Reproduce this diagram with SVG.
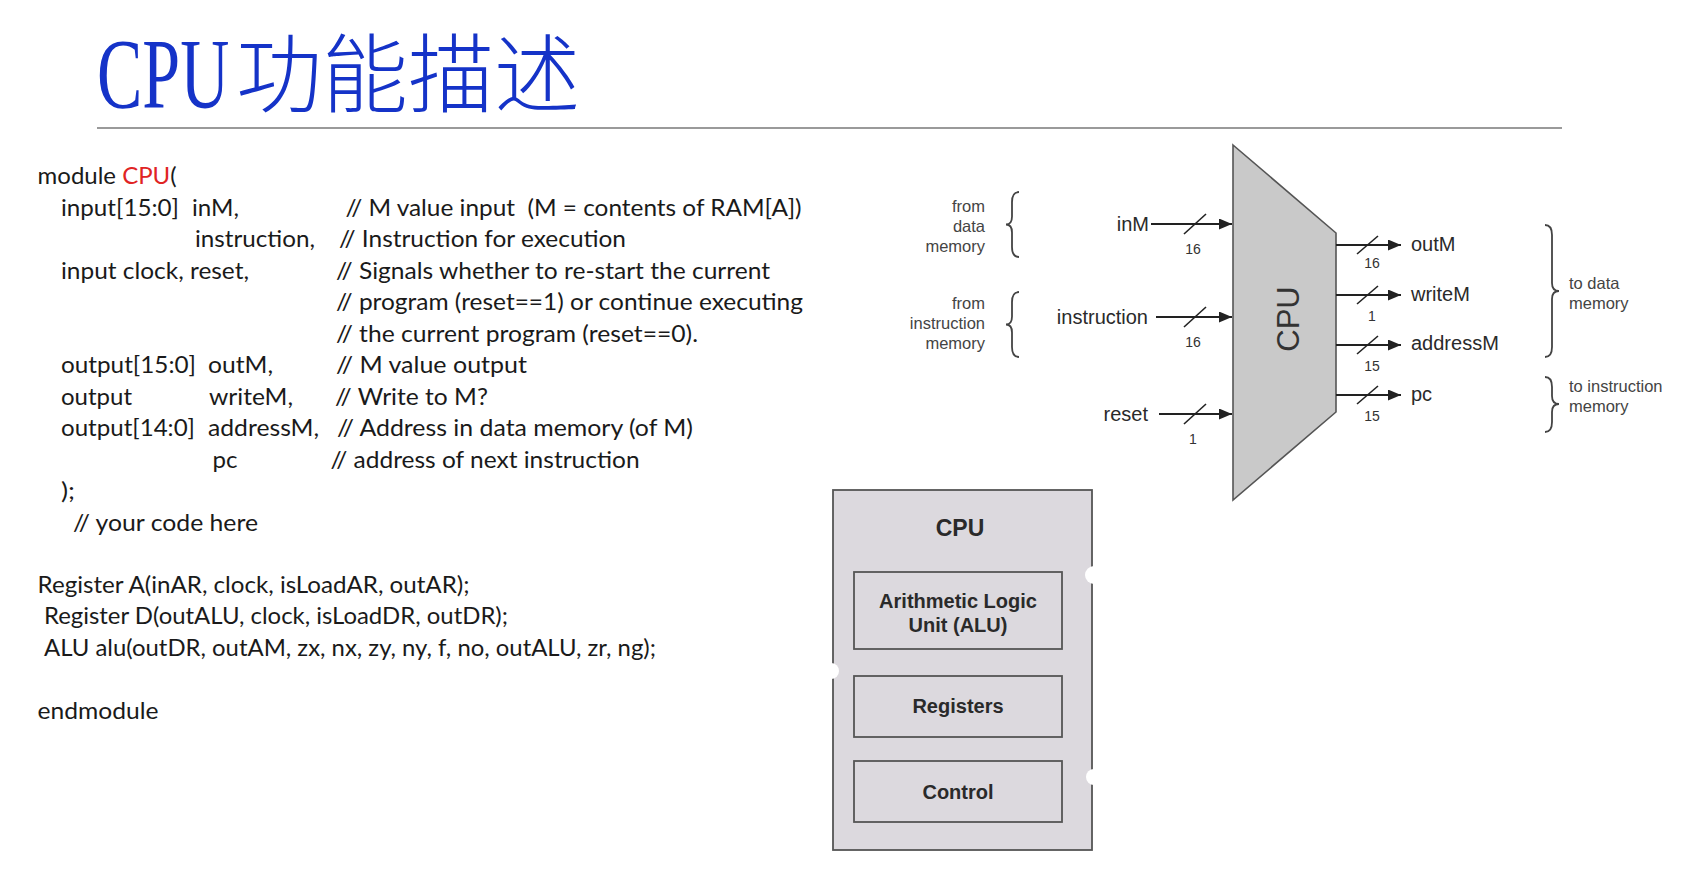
<svg xmlns="http://www.w3.org/2000/svg" width="1683" height="874" viewBox="0 0 1683 874">
<style>
.code{font-family:Lato,"Liberation Sans",sans-serif;font-size:24px;fill:#1a1a1a}
.red{fill:#e02424}
.lbl{font-family:"Liberation Sans",Arial,sans-serif;font-size:20px;fill:#2a2a2a}
.num{font-family:"Liberation Sans",Arial,sans-serif;font-size:14px;fill:#333;text-anchor:middle}
.mem{font-family:"Liberation Sans",Arial,sans-serif;font-size:16.5px;fill:#444}
.wire{stroke:#222;stroke-width:2;fill:none}
.slash{stroke:#222;stroke-width:1.6;fill:none}
.brace{stroke:#444;stroke-width:1.8;fill:none}
.bx{fill:#dcd9de;stroke:#555;stroke-width:1.8}
.bt{font-family:"Liberation Sans",Arial,sans-serif;font-weight:bold;font-size:20px;fill:#2a2a2a;text-anchor:middle}
</style>
<defs>
<marker id="ah" markerUnits="userSpaceOnUse" markerWidth="14" markerHeight="12" refX="13" refY="5.5" orient="auto">
<path d="M0,0 L13,5.5 L0,11 z" fill="#222"/>
</marker>
</defs>
<rect width="1683" height="874" fill="#ffffff"/>

<g id="title">
<text x="0" y="0" transform="translate(97,107) scale(0.68,1)" font-family="'Liberation Serif',serif" font-size="100" fill="#1533c8">CPU</text>
<text x="236" y="106" font-family="'Noto Sans CJK SC',sans-serif" font-size="86" font-weight="300" fill="#1533c8" textLength="344" lengthAdjust="spacingAndGlyphs">功能描述</text>
<line x1="97" y1="128" x2="1562" y2="128" stroke="#9a9a9a" stroke-width="2"/>
</g>

<g id="code">
<text class="code" x="37.6" y="184" textLength="139" lengthAdjust="spacingAndGlyphs">module <tspan class="red">CPU</tspan>(</text>
<text class="code" x="61" y="216" textLength="118" lengthAdjust="spacingAndGlyphs">input[15:0]</text>
<text class="code" x="192" y="216" textLength="47" lengthAdjust="spacingAndGlyphs">inM,</text>
<text class="code" x="345.6" y="216" textLength="456" lengthAdjust="spacingAndGlyphs" xml:space="preserve">// M value input  (M = contents of RAM[A])</text>
<text class="code" x="195" y="247" textLength="120" lengthAdjust="spacingAndGlyphs">instruction,</text>
<text class="code" x="339" y="247" textLength="287" lengthAdjust="spacingAndGlyphs">// Instruction for execution</text>
<text class="code" x="61" y="279" textLength="188" lengthAdjust="spacingAndGlyphs">input clock, reset,</text>
<text class="code" x="336" y="279" textLength="434" lengthAdjust="spacingAndGlyphs">// Signals whether to re-start the current</text>
<text class="code" x="336" y="310" textLength="467" lengthAdjust="spacingAndGlyphs">// program (reset==1) or continue executing</text>
<text class="code" x="336" y="342" textLength="362" lengthAdjust="spacingAndGlyphs">// the current program (reset==0).</text>
<text class="code" x="61" y="373" textLength="135" lengthAdjust="spacingAndGlyphs">output[15:0]</text>
<text class="code" x="208" y="373" textLength="65" lengthAdjust="spacingAndGlyphs">outM,</text>
<text class="code" x="336" y="373" textLength="191" lengthAdjust="spacingAndGlyphs">// M value output</text>
<text class="code" x="61" y="405" textLength="71" lengthAdjust="spacingAndGlyphs">output</text>
<text class="code" x="209" y="405" textLength="84" lengthAdjust="spacingAndGlyphs">writeM,</text>
<text class="code" x="335" y="405" textLength="153" lengthAdjust="spacingAndGlyphs">// Write to M?</text>
<text class="code" x="61" y="436" textLength="134" lengthAdjust="spacingAndGlyphs">output[14:0]</text>
<text class="code" x="208" y="436" textLength="111" lengthAdjust="spacingAndGlyphs">addressM,</text>
<text class="code" x="337" y="436" textLength="356" lengthAdjust="spacingAndGlyphs">// Address in data memory (of M)</text>
<text class="code" x="212.5" y="468" textLength="25" lengthAdjust="spacingAndGlyphs">pc</text>
<text class="code" x="330.6" y="468" textLength="309" lengthAdjust="spacingAndGlyphs">// address of next instruction</text>
<text class="code" x="61" y="499" textLength="14" lengthAdjust="spacingAndGlyphs">);</text>
<text class="code" x="73" y="531" textLength="185" lengthAdjust="spacingAndGlyphs">// your code here</text>
<text class="code" x="37.6" y="593" textLength="432" lengthAdjust="spacingAndGlyphs">Register A(inAR, clock, isLoadAR, outAR);</text>
<text class="code" x="44" y="624" textLength="464" lengthAdjust="spacingAndGlyphs">Register D(outALU, clock, isLoadDR, outDR);</text>
<text class="code" x="44" y="656" textLength="612" lengthAdjust="spacingAndGlyphs">ALU alu(outDR, outAM, zx, nx, zy, ny, f, no, outALU, zr, ng);</text>
<text class="code" x="37.6" y="719" textLength="121" lengthAdjust="spacingAndGlyphs">endmodule</text>
</g>

<g id="cpu-block">
<polygon points="1233,145 1336,233 1336,412 1233,500" fill="#c9c9c9" stroke="#555" stroke-width="1.6"/>
<text transform="translate(1299,319) rotate(-90)" font-family="'Liberation Sans',Arial,sans-serif" font-size="31" fill="#333" text-anchor="middle">CPU</text>
</g>

<g id="inputs">
<text class="lbl" x="1149" y="231" text-anchor="end">inM</text>
<text class="lbl" x="1148" y="324" text-anchor="end">instruction</text>
<text class="lbl" x="1148" y="421" text-anchor="end">reset</text>
<text class="num" x="1193" y="254">16</text>
<text class="num" x="1193" y="347">16</text>
<text class="num" x="1193" y="444">1</text>
</g>

<g id="outputs">
<text class="lbl" x="1411" y="251">outM</text>
<text class="lbl" x="1411" y="301">writeM</text>
<text class="lbl" x="1411" y="350">addressM</text>
<text class="lbl" x="1411" y="401">pc</text>
<text class="num" x="1372" y="268">16</text>
<text class="num" x="1372" y="321">1</text>
<text class="num" x="1372" y="371">15</text>
<text class="num" x="1372" y="421">15</text>
</g>

<g id="memory-notes">
<text class="mem" text-anchor="end"><tspan x="985" y="212">from</tspan><tspan x="985" y="232">data</tspan><tspan x="985" y="252">memory</tspan></text>
<text class="mem" text-anchor="end"><tspan x="985" y="309">from</tspan><tspan x="985" y="329">instruction</tspan><tspan x="985" y="349">memory</tspan></text>
<text class="mem"><tspan x="1569" y="289">to data</tspan><tspan x="1569" y="309">memory</tspan></text>
<text class="mem"><tspan x="1569" y="392">to instruction</tspan><tspan x="1569" y="412">memory</tspan></text>
<path class="brace" d="M1019,192 Q1012,192 1012,202 L1012,216.5 Q1012,224.5 1006,224.5 Q1012,224.5 1012,232.5 L1012,247 Q1012,257 1019,257"/>
<path class="brace" d="M1019,292 Q1012,292 1012,302 L1012,316.5 Q1012,324.5 1006,324.5 Q1012,324.5 1012,332.5 L1012,347 Q1012,357 1019,357"/>
<path class="brace" d="M1545,225 Q1552,225 1552,235 L1552,283 Q1552,291 1559,291 Q1552,291 1552,299 L1552,347 Q1552,357 1545,357"/>
<path class="brace" d="M1545,377 Q1552,377 1552,387 L1552,396 Q1552,404 1559,404 Q1552,404 1552,412 L1552,422 Q1552,432 1545,432"/>
</g>

<g id="connectors">
<line class="wire" x1="1151" y1="224" x2="1232" y2="224" marker-end="url(#ah)"/>
<line class="wire" x1="1156" y1="317" x2="1232" y2="317" marker-end="url(#ah)"/>
<line class="wire" x1="1159" y1="414" x2="1232" y2="414" marker-end="url(#ah)"/>
<line class="slash" x1="1184" y1="234" x2="1206" y2="214"/>
<line class="slash" x1="1184" y1="327" x2="1206" y2="307"/>
<line class="slash" x1="1184" y1="424" x2="1206" y2="404"/>
<line class="wire" x1="1336" y1="245" x2="1401" y2="245" marker-end="url(#ah)"/>
<line class="wire" x1="1336" y1="295" x2="1401" y2="295" marker-end="url(#ah)"/>
<line class="wire" x1="1336" y1="345" x2="1401" y2="345" marker-end="url(#ah)"/>
<line class="wire" x1="1336" y1="395" x2="1401" y2="395" marker-end="url(#ah)"/>
<line class="slash" x1="1357" y1="254" x2="1378" y2="236"/>
<line class="slash" x1="1357" y1="304" x2="1378" y2="286"/>
<line class="slash" x1="1357" y1="354" x2="1378" y2="336"/>
<line class="slash" x1="1357" y1="404" x2="1378" y2="386"/>
</g>

<g id="cpu-box">
<rect class="bx" x="833" y="490" width="259" height="360"/>
<circle cx="1094" cy="575" r="9" fill="#fff"/>
<circle cx="831" cy="671" r="8" fill="#fff"/>
<circle cx="1094" cy="777" r="8" fill="#fff"/>
<text class="bt" x="960" y="536" style="font-size:23px">CPU</text>
</g>
<g id="alu">
<rect class="bx" x="854" y="572" width="208" height="77"/>
<text class="bt" x="958" y="608">Arithmetic Logic</text>
<text class="bt" x="958" y="632">Unit (ALU)</text>
</g>
<g id="registers">
<rect class="bx" x="854" y="676" width="208" height="61"/>
<text class="bt" x="958" y="713">Registers</text>
</g>
<g id="control">
<rect class="bx" x="854" y="761" width="208" height="61"/>
<text class="bt" x="958" y="799">Control</text>
</g>
</svg>
